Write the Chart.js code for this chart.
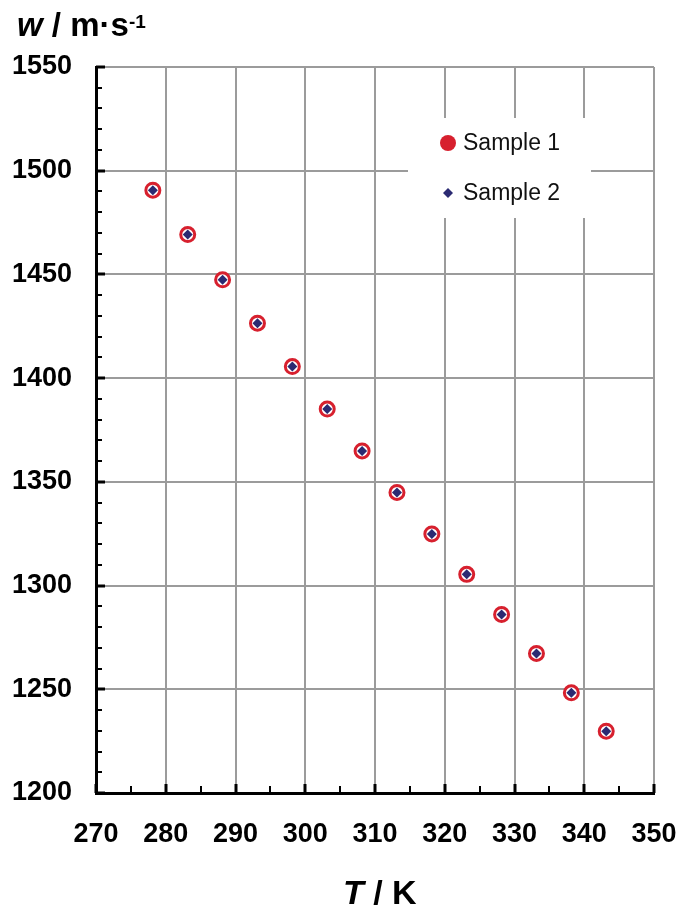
<!DOCTYPE html>
<html>
<head>
<meta charset="utf-8">
<script src="https://cdn.jsdelivr.net/npm/chart.js@4.4.1/dist/chart.umd.min.js"></script>
<style>
  html, body { margin: 0; padding: 0; background: #fff; }
  #wrap { position: relative; width: 679px; height: 909px; }
  canvas { position: absolute; left: 0; top: 0; }
  .title { position: absolute; font-family: "Liberation Sans", Arial, sans-serif; font-weight: bold; color: #000; white-space: nowrap; }
  #ytitle { left: 17px; top: 8px; font-size: 33px; line-height: 33px; }
  #ytitle sup { font-size: 19px; position: relative; top: -3px; vertical-align: top; }
  #xtitle { left: 343px; top: 875px; font-size: 34px; line-height: 34px; }
</style>
</head>
<body>
<div id="wrap">
  <canvas id="c" width="679" height="909"></canvas>
  <div class="title" id="ytitle"><i>w</i> / m·s<sup>-1</sup></div>
  <div class="title" id="xtitle"><i>T</i> / K</div>
</div>
<script>
// ---- data ----
const temperatures = [278.15, 283.15, 288.15, 293.15, 298.15, 303.15, 308.15, 313.15, 318.15, 323.15, 328.15, 333.15, 338.15, 343.15];
const sample1 = [1490.6, 1469.2, 1447.4, 1426.5, 1405.6, 1385.1, 1364.9, 1344.9, 1324.9, 1305.4, 1286.1, 1267.3, 1248.3, 1229.8];
const sample2 = [1490.6, 1469.2, 1447.4, 1426.5, 1405.6, 1385.1, 1364.9, 1344.9, 1324.9, 1305.4, 1286.1, 1267.3, 1248.3, 1229.8];
const seriesNames = ["Sample 1", "Sample 2"];
const xTicks = [270, 280, 290, 300, 310, 320, 330, 340, 350];
const yTicks = [1200, 1250, 1300, 1350, 1400, 1450, 1500, 1550];

const RED = '#d7202e';
const NAVY = '#2b2a72';
const GRID = '#9b9b9b';
const FONT = '"Liberation Sans", Arial, sans-serif';

const toPts = (xs, ys) => xs.map((x, i) => ({ x: x, y: ys[i] }));

const tickPlugin = {
  id: 'inwardTicks',
  afterDraw(chart) {
    const ctx = chart.ctx;
    const xs = chart.scales.x, ys = chart.scales.y;
    const ca = chart.chartArea;
    ctx.save();
    ctx.strokeStyle = '#000';
    for (let v = yTicks[0]; v <= yTicks[yTicks.length - 1]; v += 10) {
      const major = yTicks.includes(v);
      const py = Math.round(ys.getPixelForValue(v));
      ctx.lineWidth = major ? 3 : 2;
      ctx.beginPath();
      ctx.moveTo(ca.left, py);
      ctx.lineTo(ca.left + (major ? 9 : 6), py);
      ctx.stroke();
    }
    for (let v = xTicks[0]; v <= xTicks[xTicks.length - 1]; v += 5) {
      const major = xTicks.includes(v);
      const px = Math.round(xs.getPixelForValue(v));
      ctx.lineWidth = major ? 3 : 2;
      ctx.beginPath();
      ctx.moveTo(px, ca.bottom);
      ctx.lineTo(px, ca.bottom - (major ? 9 : 7));
      ctx.stroke();
    }
    ctx.restore();
  }
};

const legendPlugin = {
  id: 'insideLegend',
  afterDraw(chart) {
    const ctx = chart.ctx;
    const ca = chart.chartArea;
    const bx = ca.left + 312, by = ca.top + 51, bw = 183, bh = 100;
    ctx.save();
    ctx.fillStyle = '#fff';
    ctx.fillRect(bx, by, bw, bh);
    const mx = bx + 40;
    const y1 = by + 25, y2 = by + 75;
    ctx.fillStyle = RED;
    ctx.beginPath();
    ctx.arc(mx, y1, 8, 0, Math.PI * 2);
    ctx.fill();
    ctx.fillStyle = NAVY;
    ctx.beginPath();
    ctx.moveTo(mx, y2 - 5); ctx.lineTo(mx + 5, y2); ctx.lineTo(mx, y2 + 5); ctx.lineTo(mx - 5, y2);
    ctx.closePath();
    ctx.fill();
    ctx.fillStyle = '#111';
    ctx.font = '23px ' + FONT;
    ctx.textBaseline = 'middle';
    ctx.textAlign = 'left';
    ctx.fillText(chart.data.datasets[0].label, mx + 15, y1 + 1);
    ctx.fillText(chart.data.datasets[1].label, mx + 15, y2 + 1);
    ctx.restore();
  }
};

new Chart(document.getElementById('c'), {
  type: 'scatter',
  data: {
    datasets: [
      {
        label: seriesNames[0],
        data: toPts(temperatures, sample1),
        pointStyle: 'circle',
        pointRadius: 7,
        pointHoverRadius: 7,
        borderWidth: 3,
        borderColor: RED,
        backgroundColor: '#fff',
        order: 1
      },
      {
        label: seriesNames[1],
        data: toPts(temperatures, sample2),
        pointStyle: 'rectRot',
        pointRadius: 5,
        pointHoverRadius: 5,
        borderWidth: 0,
        borderColor: NAVY,
        backgroundColor: NAVY,
        order: 0
      }
    ]
  },
  options: {
    responsive: false,
    animation: false,
    devicePixelRatio: 1,
    layout: { padding: { left: 0, top: 67, right: 25, bottom: 0 } },
    plugins: { legend: { display: false }, tooltip: { enabled: false } },
    scales: {
      x: {
        type: 'linear',
        min: 270, max: 350,
        afterBuildTicks: (s) => { s.ticks = xTicks.map(v => ({ value: v })); },
        afterFit: (s) => { s.height = 116; s.paddingLeft = 0; s.paddingRight = 0; },
        grid: { color: GRID, lineWidth: 2, drawTicks: false },
        border: { display: true, color: '#000', width: 3 },
        ticks: { color: '#000', font: { family: FONT, size: 27, weight: 'bold' }, padding: 25, maxRotation: 0, autoSkip: false, callback: (v) => String(v) }
      },
      y: {
        type: 'linear',
        min: 1200, max: 1550,
        afterBuildTicks: (s) => { s.ticks = yTicks.map(v => ({ value: v })); },
        afterFit: (s) => { s.width = 96; s.paddingTop = 0; s.paddingBottom = 0; },
        grid: { color: GRID, lineWidth: 2, drawTicks: false },
        border: { display: true, color: '#000', width: 3 },
        ticks: { color: '#000', font: { family: FONT, size: 27, weight: 'bold' }, padding: 24, autoSkip: false, callback: (v) => String(v) }
      }
    }
  },
  plugins: [tickPlugin, legendPlugin]
});
</script>
</body>
</html>
